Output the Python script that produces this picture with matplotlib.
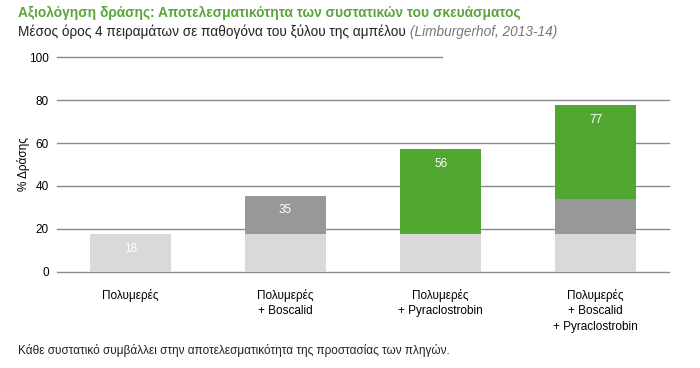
import numpy as np
import matplotlib
matplotlib.use("Agg")
import matplotlib.pyplot as plt

plt.rcParams['font.family'] = ['Liberation Sans', 'DejaVu Sans']

# data
categories = ['Πολυμερές', 'Πολυμερές\n+ Boscalid', 'Πολυμερές\n+ Pyraclostrobin',
              'Πολυμερές\n+ Boscalid\n+ Pyraclostrobin']
base = [17.5, 17.5, 17.5, 17.5]            # πολυμερές
boscalid = [0, 18, 0, 16.5]
pyraclostrobin = [0, 0, 39.5, 43.5]
value_labels = ['18', '35', '56', '77']
yticks = [0, 20, 40, 60, 80, 100]

light = '#d9d9d9'
grey = '#979998'
green = '#4fa72f'
title_green = '#5aa53a'

fig = plt.figure(figsize=(7, 3.68), dpi=100)
ax = fig.add_axes([0.0814, 0.261, 0.8746, 0.584])

x = np.arange(len(categories))
w = 0.52

# grid lines (the 100 line is shorter in the original)
for t in yticks:
    xmax = 0.629 if t == 100 else 1
    ax.axhline(t, xmin=0, xmax=xmax, color='#8a8a8a', lw=1.0, zorder=0, clip_on=False)

b1 = np.array(base)
b2 = b1 + np.array(boscalid)
ax.bar(x, base, w, color=light, zorder=2)
ax.bar(x, boscalid, w, bottom=b1, color=grey, zorder=2)
ax.bar(x, pyraclostrobin, w, bottom=b2, color=green, zorder=2)

totals = b2 + np.array(pyraclostrobin)
for xi, tot, lab in zip(x, totals, value_labels):
    ax.annotate(lab, (xi, tot), xytext=(0, -6), textcoords='offset points',
                ha='center', va='top', color='white', fontsize=8.5)

ax.set_xlim(-0.474, 3.474)
ax.set_ylim(0, 100)
ax.set_yticks(yticks)
ax.set_xticks(x)
ax.set_xticklabels(categories, fontsize=8.5, linespacing=1.4)
ax.tick_params(axis='both', length=0, labelsize=8.5)
ax.tick_params(axis='x', pad=12)
ax.tick_params(axis='y', pad=6)
for s in ax.spines.values():
    s.set_visible(False)
ax.set_ylabel('% Δράσης', fontsize=8.5, labelpad=-1)

fig.text(0.026, 0.965, 'Αξιολόγηση δράσης: Αποτελεσματικότητα των συστατικών του σκευάσματος',
         color=title_green, fontsize=9.9, fontweight='bold', va='center')
t = fig.text(0.026, 0.913, 'Μέσος όρος 4 πειραμάτων σε παθογόνα του ξύλου της αμπέλου ',
             color='#222222', fontsize=9.8, va='center')
fig.canvas.draw()
bb = t.get_window_extent()
fig.text(bb.x1 / fig.bbox.width, 0.913, '(Limburgerhof, 2013-14)', color='#777777',
         fontsize=9.8, style='italic', va='center')
fig.text(0.026, 0.047, 'Κάθε συστατικό συμβάλλει στην αποτελεσματικότητα της προστασίας των πληγών.',
         color='#222222', fontsize=8.5, va='center')

fig.savefig('out.png', dpi=100)
